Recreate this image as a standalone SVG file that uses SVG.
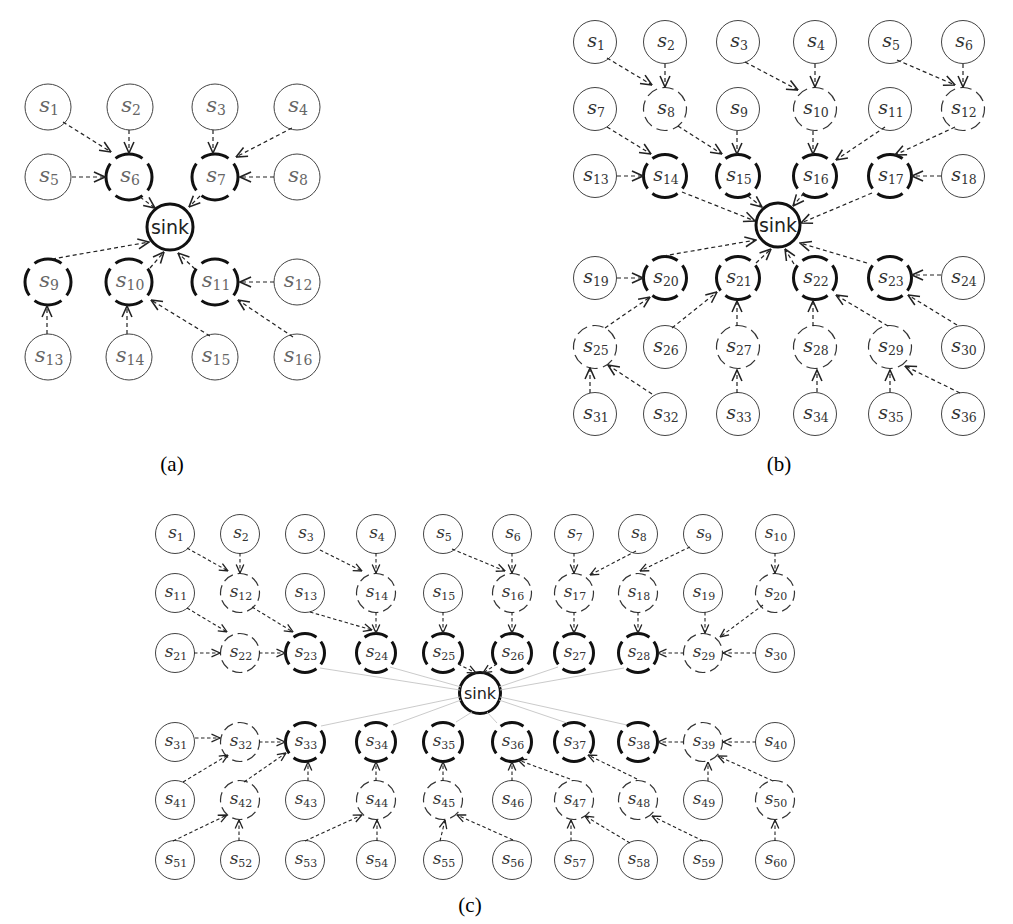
<svg xmlns="http://www.w3.org/2000/svg" width="1013" height="924" viewBox="0 0 1013 924">
<defs>
<marker id="ah" viewBox="0 0 10 10" refX="9.5" refY="5" markerWidth="13" markerHeight="13" markerUnits="userSpaceOnUse" orient="auto"><path d="M1,1.2 L9.5,5 L1,8.8" fill="none" stroke="#222" stroke-width="1.2" stroke-dasharray="none"/></marker>
<marker id="ah2" viewBox="0 0 10 10" refX="9.5" refY="5" markerWidth="10" markerHeight="10" markerUnits="userSpaceOnUse" orient="auto"><path d="M1,1.2 L9.5,5 L1,8.8" fill="none" stroke="#222" stroke-width="1.3" stroke-dasharray="none"/></marker>
</defs>
<style>
.n{fill:#fff;stroke:#444;stroke-width:1}
.nd{fill:#fff;stroke:#333;stroke-width:1.2;stroke-dasharray:8.5 4;stroke-dashoffset:2}
.nt{fill:#fff;stroke:#111;stroke-width:3;stroke-dasharray:20 5;stroke-dashoffset:10}
.sk{fill:#fff;stroke:#111;stroke-width:3}
.e{fill:none;stroke:#222;stroke-width:1.2;stroke-dasharray:4 3;marker-end:url(#ah)}
.f{fill:none;stroke:#222;stroke-width:1.1;stroke-dasharray:3.5 2.5;marker-end:url(#ah2)}
.g{fill:none;stroke:#c4c4c4;stroke-width:0.9}
.ta{font-family:"DejaVu Serif",serif;font-style:italic;font-size:21px;fill:#666;text-anchor:middle}
.ua{font-style:normal;font-size:14px}
.tb{font-family:"DejaVu Serif",serif;font-style:italic;font-size:19px;fill:#333;text-anchor:middle}
.ub{font-style:normal;font-size:12.5px}
.tc{font-family:"DejaVu Serif",serif;font-style:italic;font-size:17px;fill:#333;text-anchor:middle}
.uc{font-style:normal;font-size:11px}
.sinka{font-family:"DejaVu Sans",sans-serif;font-size:19px;fill:#222;text-anchor:middle}
.sinkc{font-family:"DejaVu Sans",sans-serif;font-size:16px;fill:#222;text-anchor:middle}
.cap{font-family:"Liberation Serif",serif;font-size:21px;fill:#000;text-anchor:middle}
</style>
<rect width="1013" height="924" fill="#fff"/>

<!-- ============ PANEL A ============ -->
<g id="panel-a">
<g id="a-s1"><circle class="n" cx="48" cy="107" r="23"/><text class="ta" x="49" y="112">s<tspan class="ua" dy="3">1</tspan></text></g>
<g id="a-s2"><circle class="n" cx="130" cy="107" r="23"/><text class="ta" x="131" y="112">s<tspan class="ua" dy="3">2</tspan></text></g>
<g id="a-s3"><circle class="n" cx="215" cy="107" r="23"/><text class="ta" x="216" y="112">s<tspan class="ua" dy="3">3</tspan></text></g>
<g id="a-s4"><circle class="n" cx="297" cy="107" r="23"/><text class="ta" x="298" y="112">s<tspan class="ua" dy="3">4</tspan></text></g>
<g id="a-s5"><circle class="n" cx="48" cy="177" r="23"/><text class="ta" x="49" y="182">s<tspan class="ua" dy="3">5</tspan></text></g>
<g id="a-s6"><circle class="nt" pathLength="100" cx="129" cy="177" r="23"/><text class="ta" x="130" y="182">s<tspan class="ua" dy="3">6</tspan></text></g>
<g id="a-s7"><circle class="nt" pathLength="100" cx="215" cy="177" r="23"/><text class="ta" x="216" y="182">s<tspan class="ua" dy="3">7</tspan></text></g>
<g id="a-s8"><circle class="n" cx="297" cy="177" r="23"/><text class="ta" x="298" y="182">s<tspan class="ua" dy="3">8</tspan></text></g>
<g id="a-sink"><circle class="sk" cx="170" cy="227" r="23"/><text class="sinka" x="170" y="234">sink</text></g>
<g id="a-s9"><circle class="nt" pathLength="100" cx="48" cy="282" r="23"/><text class="ta" x="49" y="287">s<tspan class="ua" dy="3">9</tspan></text></g>
<g id="a-s10"><circle class="nt" pathLength="100" cx="129" cy="282" r="23"/><text class="ta" x="130" y="287">s<tspan class="ua" dy="3">10</tspan></text></g>
<g id="a-s11"><circle class="nt" pathLength="100" cx="215" cy="282" r="23"/><text class="ta" x="216" y="287">s<tspan class="ua" dy="3">11</tspan></text></g>
<g id="a-s12"><circle class="n" cx="297" cy="282" r="23"/><text class="ta" x="298" y="287">s<tspan class="ua" dy="3">12</tspan></text></g>
<g id="a-s13"><circle class="n" cx="48" cy="357" r="23"/><text class="ta" x="49" y="362">s<tspan class="ua" dy="3">13</tspan></text></g>
<g id="a-s14"><circle class="n" cx="129" cy="357" r="23"/><text class="ta" x="130" y="362">s<tspan class="ua" dy="3">14</tspan></text></g>
<g id="a-s15"><circle class="n" cx="215" cy="357" r="23"/><text class="ta" x="216" y="362">s<tspan class="ua" dy="3">15</tspan></text></g>
<g id="a-s16"><circle class="n" cx="297" cy="357" r="23"/><text class="ta" x="298" y="362">s<tspan class="ua" dy="3">16</tspan></text></g>
<g id="a-connectors">
<path class="e" d="M63,122 L111,152"/>
<path class="e" d="M129,130 L129,153"/>
<path class="e" d="M72,177 L105,177"/>
<path class="e" d="M213,130 L213,153"/>
<path class="e" d="M292,128 L236,157"/>
<path class="e" d="M274,177 L240,177"/>
<path class="e" d="M140,197 L155,208"/>
<path class="e" d="M200,196 L189,207"/>
<path class="e" d="M52,259 L149,242"/>
<path class="e" d="M150,268 L164,252"/>
<path class="e" d="M195,269 L178,253"/>
<path class="e" d="M274,282 L240,282"/>
<path class="e" d="M47,334 L47,306"/>
<path class="e" d="M127,334 L127,306"/>
<path class="e" d="M210,336 L151,300"/>
<path class="e" d="M293,337 L238,300"/>
</g>
<text class="cap" x="172" y="471">(a)</text>
</g>

<!-- ============ PANEL B ============ -->
<g id="panel-b">
<g id="b-s1"><circle class="n" cx="595" cy="42" r="21.5"/><text class="tb" x="596" y="47">s<tspan class="ub" dy="3">1</tspan></text></g>
<g id="b-s2"><circle class="n" cx="665" cy="42" r="21.5"/><text class="tb" x="666" y="47">s<tspan class="ub" dy="3">2</tspan></text></g>
<g id="b-s3"><circle class="n" cx="738" cy="42" r="21.5"/><text class="tb" x="739" y="47">s<tspan class="ub" dy="3">3</tspan></text></g>
<g id="b-s4"><circle class="n" cx="815" cy="42" r="21.5"/><text class="tb" x="816" y="47">s<tspan class="ub" dy="3">4</tspan></text></g>
<g id="b-s5"><circle class="n" cx="890" cy="42" r="21.5"/><text class="tb" x="891" y="47">s<tspan class="ub" dy="3">5</tspan></text></g>
<g id="b-s6"><circle class="n" cx="963" cy="42" r="21.5"/><text class="tb" x="964" y="47">s<tspan class="ub" dy="3">6</tspan></text></g>
<g id="b-s7"><circle class="n" cx="595" cy="109" r="21.5"/><text class="tb" x="596" y="114">s<tspan class="ub" dy="3">7</tspan></text></g>
<g id="b-s8"><circle class="nd" pathLength="100" cx="665" cy="109" r="21.5"/><text class="tb" x="666" y="114">s<tspan class="ub" dy="3">8</tspan></text></g>
<g id="b-s9"><circle class="n" cx="738" cy="109" r="21.5"/><text class="tb" x="739" y="114">s<tspan class="ub" dy="3">9</tspan></text></g>
<g id="b-s10"><circle class="nd" pathLength="100" cx="815" cy="109" r="21.5"/><text class="tb" x="816" y="114">s<tspan class="ub" dy="3">10</tspan></text></g>
<g id="b-s11"><circle class="n" cx="890" cy="109" r="21.5"/><text class="tb" x="891" y="114">s<tspan class="ub" dy="3">11</tspan></text></g>
<g id="b-s12"><circle class="nd" pathLength="100" cx="963" cy="109" r="21.5"/><text class="tb" x="964" y="114">s<tspan class="ub" dy="3">12</tspan></text></g>
<g id="b-s13"><circle class="n" cx="595" cy="176" r="21.5"/><text class="tb" x="596" y="181">s<tspan class="ub" dy="3">13</tspan></text></g>
<g id="b-s14"><circle class="nt" pathLength="100" cx="665" cy="176" r="21.5"/><text class="tb" x="666" y="181">s<tspan class="ub" dy="3">14</tspan></text></g>
<g id="b-s15"><circle class="nt" pathLength="100" cx="738" cy="176" r="21.5"/><text class="tb" x="739" y="181">s<tspan class="ub" dy="3">15</tspan></text></g>
<g id="b-s16"><circle class="nt" pathLength="100" cx="815" cy="176" r="21.5"/><text class="tb" x="816" y="181">s<tspan class="ub" dy="3">16</tspan></text></g>
<g id="b-s17"><circle class="nt" pathLength="100" cx="890" cy="176" r="21.5"/><text class="tb" x="891" y="181">s<tspan class="ub" dy="3">17</tspan></text></g>
<g id="b-s18"><circle class="n" cx="963" cy="176" r="21.5"/><text class="tb" x="964" y="181">s<tspan class="ub" dy="3">18</tspan></text></g>
<g id="b-sink"><circle class="sk" cx="778" cy="225" r="22"/><text class="sinka" x="778" y="232">sink</text></g>
<g id="b-s19"><circle class="n" cx="595" cy="278" r="21.5"/><text class="tb" x="596" y="283">s<tspan class="ub" dy="3">19</tspan></text></g>
<g id="b-s20"><circle class="nt" pathLength="100" cx="665" cy="278" r="21.5"/><text class="tb" x="666" y="283">s<tspan class="ub" dy="3">20</tspan></text></g>
<g id="b-s21"><circle class="nt" pathLength="100" cx="738" cy="278" r="21.5"/><text class="tb" x="739" y="283">s<tspan class="ub" dy="3">21</tspan></text></g>
<g id="b-s22"><circle class="nt" pathLength="100" cx="815" cy="278" r="21.5"/><text class="tb" x="816" y="283">s<tspan class="ub" dy="3">22</tspan></text></g>
<g id="b-s23"><circle class="nt" pathLength="100" cx="890" cy="278" r="21.5"/><text class="tb" x="891" y="283">s<tspan class="ub" dy="3">23</tspan></text></g>
<g id="b-s24"><circle class="n" cx="963" cy="278" r="21.5"/><text class="tb" x="964" y="283">s<tspan class="ub" dy="3">24</tspan></text></g>
<g id="b-s25"><circle class="nd" pathLength="100" cx="595" cy="347" r="21.5"/><text class="tb" x="596" y="352">s<tspan class="ub" dy="3">25</tspan></text></g>
<g id="b-s26"><circle class="n" cx="665" cy="347" r="21.5"/><text class="tb" x="666" y="352">s<tspan class="ub" dy="3">26</tspan></text></g>
<g id="b-s27"><circle class="nd" pathLength="100" cx="738" cy="347" r="21.5"/><text class="tb" x="739" y="352">s<tspan class="ub" dy="3">27</tspan></text></g>
<g id="b-s28"><circle class="nd" pathLength="100" cx="815" cy="347" r="21.5"/><text class="tb" x="816" y="352">s<tspan class="ub" dy="3">28</tspan></text></g>
<g id="b-s29"><circle class="nd" pathLength="100" cx="890" cy="347" r="21.5"/><text class="tb" x="891" y="352">s<tspan class="ub" dy="3">29</tspan></text></g>
<g id="b-s30"><circle class="n" cx="963" cy="347" r="21.5"/><text class="tb" x="964" y="352">s<tspan class="ub" dy="3">30</tspan></text></g>
<g id="b-s31"><circle class="n" cx="595" cy="414" r="21.5"/><text class="tb" x="596" y="419">s<tspan class="ub" dy="3">31</tspan></text></g>
<g id="b-s32"><circle class="n" cx="665" cy="414" r="21.5"/><text class="tb" x="666" y="419">s<tspan class="ub" dy="3">32</tspan></text></g>
<g id="b-s33"><circle class="n" cx="738" cy="414" r="21.5"/><text class="tb" x="739" y="419">s<tspan class="ub" dy="3">33</tspan></text></g>
<g id="b-s34"><circle class="n" cx="815" cy="414" r="21.5"/><text class="tb" x="816" y="419">s<tspan class="ub" dy="3">34</tspan></text></g>
<g id="b-s35"><circle class="n" cx="890" cy="414" r="21.5"/><text class="tb" x="891" y="419">s<tspan class="ub" dy="3">35</tspan></text></g>
<g id="b-s36"><circle class="n" cx="963" cy="414" r="21.5"/><text class="tb" x="964" y="419">s<tspan class="ub" dy="3">36</tspan></text></g>
<g id="b-connectors">
<path class="e" d="M607,58 L652,85"/>
<path class="e" d="M665,64 L665,87"/>
<path class="e" d="M745,62 L798,90"/>
<path class="e" d="M815,64 L815,87"/>
<path class="e" d="M897,60 L955,85"/>
<path class="e" d="M963,64 L963,87"/>
<path class="e" d="M607,127 L651,154"/>
<path class="e" d="M678,126 L722,154"/>
<path class="e" d="M737,131 L737,154"/>
<path class="e" d="M617,176 L643,176"/>
<path class="e" d="M682,192 L755,221"/>
<path class="e" d="M748,196 L762,207"/>
<path class="e" d="M813,131 L813,154"/>
<path class="e" d="M885,127 L836,160"/>
<path class="e" d="M955,127 L895,155"/>
<path class="e" d="M941,176 L912,176"/>
<path class="e" d="M804,193 L793,206"/>
<path class="e" d="M872,193 L801,223"/>
<path class="e" d="M663,256 L756,240"/>
<path class="e" d="M617,278 L643,278"/>
<path class="e" d="M605,328 L650,297"/>
<path class="e" d="M672,328 L717,292"/>
<path class="e" d="M756,263 L771,249"/>
<path class="e" d="M737,326 L737,301"/>
<path class="e" d="M794,264 L785,249"/>
<path class="e" d="M867,263 L800,243"/>
<path class="e" d="M941,275 L912,275"/>
<path class="e" d="M957,325 L908,295"/>
<path class="e" d="M813,326 L813,301"/>
<path class="e" d="M888,326 L836,295"/>
<path class="e" d="M590,393 L590,368"/>
<path class="e" d="M652,394 L608,365"/>
<path class="e" d="M737,393 L737,370"/>
<path class="e" d="M817,392 L817,370"/>
<path class="e" d="M890,392 L890,370"/>
<path class="e" d="M960,393 L905,366"/>
</g>
<text class="cap" x="779" y="471">(b)</text>
</g>

<!-- ============ PANEL C ============ -->
<g id="panel-c">
<g id="c-s1"><circle class="n" cx="175" cy="534" r="19.5"/><text class="tc" x="176" y="538">s<tspan class="uc" dy="3">1</tspan></text></g>
<g id="c-s2"><circle class="n" cx="240" cy="534" r="19.5"/><text class="tc" x="241" y="538">s<tspan class="uc" dy="3">2</tspan></text></g>
<g id="c-s3"><circle class="n" cx="305" cy="534" r="19.5"/><text class="tc" x="306" y="538">s<tspan class="uc" dy="3">3</tspan></text></g>
<g id="c-s4"><circle class="n" cx="376" cy="534" r="19.5"/><text class="tc" x="377" y="538">s<tspan class="uc" dy="3">4</tspan></text></g>
<g id="c-s5"><circle class="n" cx="443" cy="534" r="19.5"/><text class="tc" x="444" y="538">s<tspan class="uc" dy="3">5</tspan></text></g>
<g id="c-s6"><circle class="n" cx="512" cy="534" r="19.5"/><text class="tc" x="513" y="538">s<tspan class="uc" dy="3">6</tspan></text></g>
<g id="c-s7"><circle class="n" cx="574" cy="534" r="19.5"/><text class="tc" x="575" y="538">s<tspan class="uc" dy="3">7</tspan></text></g>
<g id="c-s8"><circle class="n" cx="638" cy="534" r="19.5"/><text class="tc" x="639" y="538">s<tspan class="uc" dy="3">8</tspan></text></g>
<g id="c-s9"><circle class="n" cx="703" cy="534" r="19.5"/><text class="tc" x="704" y="538">s<tspan class="uc" dy="3">9</tspan></text></g>
<g id="c-s10"><circle class="n" cx="775" cy="534" r="19.5"/><text class="tc" x="776" y="538">s<tspan class="uc" dy="3">10</tspan></text></g>
<g id="c-s11"><circle class="n" cx="175" cy="593" r="19.5"/><text class="tc" x="176" y="597">s<tspan class="uc" dy="3">11</tspan></text></g>
<g id="c-s12"><circle class="nd" pathLength="100" cx="240" cy="593" r="19.5"/><text class="tc" x="241" y="597">s<tspan class="uc" dy="3">12</tspan></text></g>
<g id="c-s13"><circle class="n" cx="305" cy="593" r="19.5"/><text class="tc" x="306" y="597">s<tspan class="uc" dy="3">13</tspan></text></g>
<g id="c-s14"><circle class="nd" pathLength="100" cx="376" cy="593" r="19.5"/><text class="tc" x="377" y="597">s<tspan class="uc" dy="3">14</tspan></text></g>
<g id="c-s15"><circle class="n" cx="443" cy="593" r="19.5"/><text class="tc" x="444" y="597">s<tspan class="uc" dy="3">15</tspan></text></g>
<g id="c-s16"><circle class="nd" pathLength="100" cx="512" cy="593" r="19.5"/><text class="tc" x="513" y="597">s<tspan class="uc" dy="3">16</tspan></text></g>
<g id="c-s17"><circle class="nd" pathLength="100" cx="574" cy="593" r="19.5"/><text class="tc" x="575" y="597">s<tspan class="uc" dy="3">17</tspan></text></g>
<g id="c-s18"><circle class="nd" pathLength="100" cx="638" cy="593" r="19.5"/><text class="tc" x="639" y="597">s<tspan class="uc" dy="3">18</tspan></text></g>
<g id="c-s19"><circle class="n" cx="703" cy="593" r="19.5"/><text class="tc" x="704" y="597">s<tspan class="uc" dy="3">19</tspan></text></g>
<g id="c-s20"><circle class="nd" pathLength="100" cx="775" cy="593" r="19.5"/><text class="tc" x="776" y="597">s<tspan class="uc" dy="3">20</tspan></text></g>
<g id="c-s21"><circle class="n" cx="175" cy="653" r="19.5"/><text class="tc" x="176" y="657">s<tspan class="uc" dy="3">21</tspan></text></g>
<g id="c-s22"><circle class="nd" pathLength="100" cx="240" cy="653" r="19.5"/><text class="tc" x="241" y="657">s<tspan class="uc" dy="3">22</tspan></text></g>
<g id="c-s23"><circle class="nt" pathLength="100" cx="305" cy="653" r="19.5"/><text class="tc" x="306" y="657">s<tspan class="uc" dy="3">23</tspan></text></g>
<g id="c-s24"><circle class="nt" pathLength="100" cx="376" cy="653" r="19.5"/><text class="tc" x="377" y="657">s<tspan class="uc" dy="3">24</tspan></text></g>
<g id="c-s25"><circle class="nt" pathLength="100" cx="443" cy="653" r="19.5"/><text class="tc" x="444" y="657">s<tspan class="uc" dy="3">25</tspan></text></g>
<g id="c-s26"><circle class="nt" pathLength="100" cx="512" cy="653" r="19.5"/><text class="tc" x="513" y="657">s<tspan class="uc" dy="3">26</tspan></text></g>
<g id="c-s27"><circle class="nt" pathLength="100" cx="574" cy="653" r="19.5"/><text class="tc" x="575" y="657">s<tspan class="uc" dy="3">27</tspan></text></g>
<g id="c-s28"><circle class="nt" pathLength="100" cx="638" cy="653" r="19.5"/><text class="tc" x="639" y="657">s<tspan class="uc" dy="3">28</tspan></text></g>
<g id="c-s29"><circle class="nd" pathLength="100" cx="703" cy="653" r="19.5"/><text class="tc" x="704" y="657">s<tspan class="uc" dy="3">29</tspan></text></g>
<g id="c-s30"><circle class="n" cx="775" cy="653" r="19.5"/><text class="tc" x="776" y="657">s<tspan class="uc" dy="3">30</tspan></text></g>
<g id="c-sink"><circle class="sk" cx="480" cy="693" r="20.5"/><text class="sinkc" x="480" y="699">sink</text></g>
<g id="c-s31"><circle class="n" cx="175" cy="742" r="19.5"/><text class="tc" x="176" y="746">s<tspan class="uc" dy="3">31</tspan></text></g>
<g id="c-s32"><circle class="nd" pathLength="100" cx="240" cy="742" r="19.5"/><text class="tc" x="241" y="746">s<tspan class="uc" dy="3">32</tspan></text></g>
<g id="c-s33"><circle class="nt" pathLength="100" cx="305" cy="742" r="19.5"/><text class="tc" x="306" y="746">s<tspan class="uc" dy="3">33</tspan></text></g>
<g id="c-s34"><circle class="nt" pathLength="100" cx="376" cy="742" r="19.5"/><text class="tc" x="377" y="746">s<tspan class="uc" dy="3">34</tspan></text></g>
<g id="c-s35"><circle class="nt" pathLength="100" cx="443" cy="742" r="19.5"/><text class="tc" x="444" y="746">s<tspan class="uc" dy="3">35</tspan></text></g>
<g id="c-s36"><circle class="nt" pathLength="100" cx="512" cy="742" r="19.5"/><text class="tc" x="513" y="746">s<tspan class="uc" dy="3">36</tspan></text></g>
<g id="c-s37"><circle class="nt" pathLength="100" cx="574" cy="742" r="19.5"/><text class="tc" x="575" y="746">s<tspan class="uc" dy="3">37</tspan></text></g>
<g id="c-s38"><circle class="nt" pathLength="100" cx="638" cy="742" r="19.5"/><text class="tc" x="639" y="746">s<tspan class="uc" dy="3">38</tspan></text></g>
<g id="c-s39"><circle class="nd" pathLength="100" cx="703" cy="742" r="19.5"/><text class="tc" x="704" y="746">s<tspan class="uc" dy="3">39</tspan></text></g>
<g id="c-s40"><circle class="n" cx="775" cy="742" r="19.5"/><text class="tc" x="776" y="746">s<tspan class="uc" dy="3">40</tspan></text></g>
<g id="c-s41"><circle class="n" cx="175" cy="800" r="19.5"/><text class="tc" x="176" y="804">s<tspan class="uc" dy="3">41</tspan></text></g>
<g id="c-s42"><circle class="nd" pathLength="100" cx="240" cy="800" r="19.5"/><text class="tc" x="241" y="804">s<tspan class="uc" dy="3">42</tspan></text></g>
<g id="c-s43"><circle class="n" cx="305" cy="800" r="19.5"/><text class="tc" x="306" y="804">s<tspan class="uc" dy="3">43</tspan></text></g>
<g id="c-s44"><circle class="nd" pathLength="100" cx="376" cy="800" r="19.5"/><text class="tc" x="377" y="804">s<tspan class="uc" dy="3">44</tspan></text></g>
<g id="c-s45"><circle class="nd" pathLength="100" cx="443" cy="800" r="19.5"/><text class="tc" x="444" y="804">s<tspan class="uc" dy="3">45</tspan></text></g>
<g id="c-s46"><circle class="n" cx="512" cy="800" r="19.5"/><text class="tc" x="513" y="804">s<tspan class="uc" dy="3">46</tspan></text></g>
<g id="c-s47"><circle class="nd" pathLength="100" cx="574" cy="800" r="19.5"/><text class="tc" x="575" y="804">s<tspan class="uc" dy="3">47</tspan></text></g>
<g id="c-s48"><circle class="nd" pathLength="100" cx="638" cy="800" r="19.5"/><text class="tc" x="639" y="804">s<tspan class="uc" dy="3">48</tspan></text></g>
<g id="c-s49"><circle class="n" cx="703" cy="800" r="19.5"/><text class="tc" x="704" y="804">s<tspan class="uc" dy="3">49</tspan></text></g>
<g id="c-s50"><circle class="nd" pathLength="100" cx="775" cy="800" r="19.5"/><text class="tc" x="776" y="804">s<tspan class="uc" dy="3">50</tspan></text></g>
<g id="c-s51"><circle class="n" cx="175" cy="860" r="19.5"/><text class="tc" x="176" y="864">s<tspan class="uc" dy="3">51</tspan></text></g>
<g id="c-s52"><circle class="n" cx="240" cy="860" r="19.5"/><text class="tc" x="241" y="864">s<tspan class="uc" dy="3">52</tspan></text></g>
<g id="c-s53"><circle class="n" cx="305" cy="860" r="19.5"/><text class="tc" x="306" y="864">s<tspan class="uc" dy="3">53</tspan></text></g>
<g id="c-s54"><circle class="n" cx="376" cy="860" r="19.5"/><text class="tc" x="377" y="864">s<tspan class="uc" dy="3">54</tspan></text></g>
<g id="c-s55"><circle class="n" cx="443" cy="860" r="19.5"/><text class="tc" x="444" y="864">s<tspan class="uc" dy="3">55</tspan></text></g>
<g id="c-s56"><circle class="n" cx="512" cy="860" r="19.5"/><text class="tc" x="513" y="864">s<tspan class="uc" dy="3">56</tspan></text></g>
<g id="c-s57"><circle class="n" cx="574" cy="860" r="19.5"/><text class="tc" x="575" y="864">s<tspan class="uc" dy="3">57</tspan></text></g>
<g id="c-s58"><circle class="n" cx="638" cy="860" r="19.5"/><text class="tc" x="639" y="864">s<tspan class="uc" dy="3">58</tspan></text></g>
<g id="c-s59"><circle class="n" cx="703" cy="860" r="19.5"/><text class="tc" x="704" y="864">s<tspan class="uc" dy="3">59</tspan></text></g>
<g id="c-s60"><circle class="n" cx="775" cy="860" r="19.5"/><text class="tc" x="776" y="864">s<tspan class="uc" dy="3">60</tspan></text></g>
<g id="c-connectors">
<path class="g" d="M460,690 L320,668"/>
<path class="g" d="M461,687 L390,667"/>
<path class="g" d="M499,687 L558,667"/>
<path class="g" d="M500,690 L624,668"/>
<path class="g" d="M460,697 L321,726"/>
<path class="g" d="M461,700 L393,725"/>
<path class="g" d="M472,712 L456,722"/>
<path class="g" d="M487,712 L497,723"/>
<path class="g" d="M499,700 L567,723"/>
<path class="g" d="M500,697 L627,725"/>
<path class="f" d="M187,548 L228,571"/>
<path class="f" d="M240,553 L240,573"/>
<path class="f" d="M320,550 L362,571"/>
<path class="f" d="M376,553 L376,573"/>
<path class="f" d="M452,549 L505,571"/>
<path class="f" d="M512,553 L512,573"/>
<path class="f" d="M574,553 L574,573"/>
<path class="f" d="M636,551 L590,575"/>
<path class="f" d="M690,547 L640,571"/>
<path class="f" d="M775,553 L775,573"/>
<path class="f" d="M187,608 L227,632"/>
<path class="f" d="M252,607 L293,632"/>
<path class="f" d="M310,612 L372,630"/>
<path class="f" d="M376,612 L376,633"/>
<path class="f" d="M443,612 L443,633"/>
<path class="f" d="M512,612 L512,633"/>
<path class="f" d="M574,612 L574,633"/>
<path class="f" d="M638,612 L638,633"/>
<path class="f" d="M705,612 L705,633"/>
<path class="f" d="M763,605 L720,637"/>
<path class="f" d="M194,653 L220,653"/>
<path class="f" d="M259,653 L285,653"/>
<path class="f" d="M684,653 L658,653"/>
<path class="f" d="M756,653 L723,653"/>
<path class="f" d="M458,664 L476,673"/>
<path class="f" d="M497,664 L483,673"/>
<path class="f" d="M195,738 L220,738"/>
<path class="f" d="M259,742 L285,742"/>
<path class="f" d="M183,782 L228,755"/>
<path class="f" d="M244,782 L286,753"/>
<path class="f" d="M308,781 L308,762"/>
<path class="f" d="M376,781 L376,762"/>
<path class="f" d="M443,781 L443,762"/>
<path class="f" d="M173,841 L227,815"/>
<path class="f" d="M239,841 L239,820"/>
<path class="f" d="M305,841 L362,815"/>
<path class="f" d="M377,841 L377,820"/>
<path class="f" d="M440,841 L445,820"/>
<path class="f" d="M513,840 L457,815"/>
<path class="f" d="M512,781 L512,762"/>
<path class="f" d="M570,779 L518,760"/>
<path class="f" d="M637,779 L588,755"/>
<path class="f" d="M571,841 L571,820"/>
<path class="f" d="M630,843 L585,816"/>
<path class="f" d="M703,841 L652,816"/>
<path class="f" d="M775,841 L775,820"/>
<path class="f" d="M684,742 L658,742"/>
<path class="f" d="M756,742 L723,742"/>
<path class="f" d="M708,781 L708,762"/>
<path class="f" d="M773,781 L718,756"/>
</g>
<text class="cap" x="470" y="912">(c)</text>
</g>
</svg>
